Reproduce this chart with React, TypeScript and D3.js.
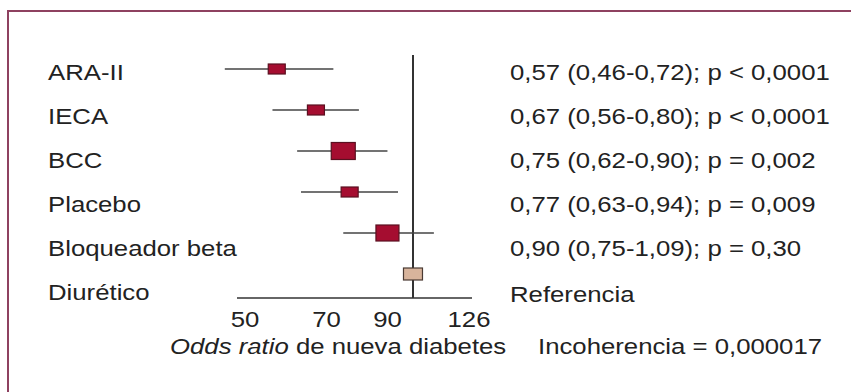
import React from 'react';
import * as d3 from 'd3';

// groups (reference group last)
const categories = ['ARA-II', 'IECA', 'BCC', 'Placebo', 'Bloqueador beta', 'Diurético'];
// odds ratio x100 with 95% CI
const oddsRatio = [57, 67, 75, 77, 90, 100];
const ciLow = [46, 56, 62, 63, 75, null];
const ciHigh = [72, 80, 90, 94, 109, null];
// relative weight of each estimate (box size)
const weights = [10, 10, 17, 10, 16, 12];
const statLabels = [
  '0,57 (0,46-0,72); p < 0,0001',
  '0,67 (0,56-0,80); p < 0,0001',
  '0,75 (0,62-0,90); p = 0,002',
  '0,77 (0,63-0,94); p = 0,009',
  '0,90 (0,75-1,09); p = 0,30',
  'Referencia',
];
const tickValues = [50, 70, 90, 126];
const refValue = 100;

const FONT = '"Liberation Sans", Arial, Helvetica, sans-serif';
const SX = 1.17; // the source is a bit stretched horizontally

function Txt(props: { x: number; y: number; anchor?: string; size?: number; children: React.ReactNode }) {
  const { x, y, anchor, size, children } = props;
  return (
    <text
      transform={'translate(' + x + ',' + y + ') scale(' + SX + ',1)'}
      textAnchor={anchor || 'start'}
      fontFamily={FONT}
      fontSize={size || 22}
      fill="#222"
    >
      {children}
    </text>
  );
}

export default function App() {
  const width = 851, height = 392;

  let x = d3.scaleLog().domain([50, 126]).range([245, 469]);
  let yMark = d3.scalePoint().domain(categories).range([69, 274]);
  let yText = d3.scalePoint().domain(categories).range([80, 300]);
  let size = d3.scaleLinear().domain([0, 17]).range([0, 17]);

  const axisY = 298;

  return (
    <svg width={width} height={height} style={{ position: 'absolute', left: 0, top: 0, background: '#fff' }}>
      <rect x={8} y={11} width={900} height={420} fill="#fff" stroke="#8e4160" strokeWidth={2} />

      {categories.map((c, i) => (
        <Txt key={'l' + i} x={48} y={yText(c)!}>{c}</Txt>
      ))}

      {statLabels.map((s, i) => (
        <Txt key={'s' + i} x={510} y={yText(categories[i])! + (i === 5 ? 2 : 0)}>{s}</Txt>
      ))}

      {/* axis */}
      <line x1={x(50) - 8} x2={x(126) + 3} y1={axisY} y2={axisY} stroke="#333" strokeWidth={1.5} />
      {tickValues.map((t) => (
        <Txt key={'t' + t} x={x(t)} y={327} anchor="middle">{String(t)}</Txt>
      ))}

      {/* reference line */}
      <line x1={x(refValue)} x2={x(refValue)} y1={55} y2={axisY} stroke="#333" strokeWidth={2} />

      {/* CI whiskers */}
      {categories.map((c, i) =>
        ciLow[i] != null ? (
          <line key={'ci' + i} x1={x(ciLow[i] as number)} x2={x(ciHigh[i] as number)}
            y1={yMark(c)} y2={yMark(c)} stroke="#444" strokeWidth={1.5} />
        ) : null
      )}

      {/* boxes */}
      {categories.map((c, i) => {
        const h = size(weights[i]);
        const w = h + 7;
        const ref = i === categories.length - 1;
        return (
          <rect key={'b' + i} x={x(oddsRatio[i]) - w / 2} y={yMark(c)! - h / 2} width={w} height={h}
            fill={ref ? '#d8b49c' : '#a50d30'} stroke={ref ? '#4a3a33' : '#5a1020'} strokeWidth={1.2} />
        );
      })}

      <text transform={'translate(170,354) scale(' + SX + ',1)'} fontFamily={FONT} fontSize={22} fill="#222">
        <tspan fontStyle="italic">Odds ratio</tspan> de nueva diabetes
      </text>
      <Txt x={538} y={354}>Incoherencia = 0,000017</Txt>
    </svg>
  );
}
